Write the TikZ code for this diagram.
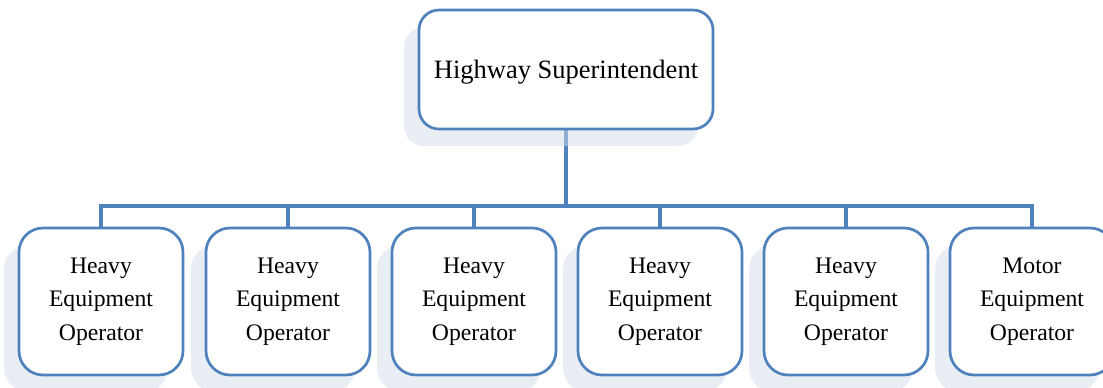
\documentclass[tikz,border=0pt]{standalone}
\usepackage{fontspec}
\setmainfont{Liberation Serif}
\usetikzlibrary{shadows}
\pgfdeclarelayer{background}
\pgfsetlayers{background,main}
\definecolor{boxblue}{HTML}{4F81BD}
\definecolor{shadowblue}{RGB}{211,221,235}
\tikzset{
  orgbox/.style={draw=boxblue, line width=2.7pt, fill=white, rounded corners=20pt,
    align=center, inner sep=0pt,
    general shadow={fill=shadowblue, fill opacity=0.5, shadow xshift=-15pt, shadow yshift=-17pt}},
  topbox/.style={orgbox, minimum width=294pt, minimum height=119pt, text height=23pt, text depth=6pt, font=\fontsize{26.5}{32}\selectfont},
  subbox/.style={orgbox, rounded corners=24pt, minimum width=164pt, minimum height=147pt, font=\fontsize{23.7}{33.5}\selectfont},
  link/.style={draw=boxblue, line width=4.3pt}
}
\begin{document}
\begin{tikzpicture}[x=1pt,y=-1pt]
\useasboundingbox (0,0) rectangle (1103,388);
\node[topbox] (top) at (566,69.5) {Highway Superintendent};
\node[subbox] (c1) at (101,301.5) {Heavy\\Equipment\\Operator};
\node[subbox] (c2) at (288,301.5) {Heavy\\Equipment\\Operator};
\node[subbox] (c3) at (474,301.5) {Heavy\\Equipment\\Operator};
\node[subbox] (c4) at (660,301.5) {Heavy\\Equipment\\Operator};
\node[subbox] (c5) at (846,301.5) {Heavy\\Equipment\\Operator};
\node[subbox] (c6) at (1032,301.5) {Motor\\Equipment\\Operator};
\coordinate (bus) at (566,206);
\begin{pgfonlayer}{background}
\draw[link] (top.south) -- (bus);
\draw[link, line cap=rect] (c1.north) |- (bus) -| (c6.north);
\foreach \c in {c2,c3,c4,c5} \draw[link] (\c.north) -- (\c.north |- bus);
\end{pgfonlayer}
\end{tikzpicture}
\end{document}
